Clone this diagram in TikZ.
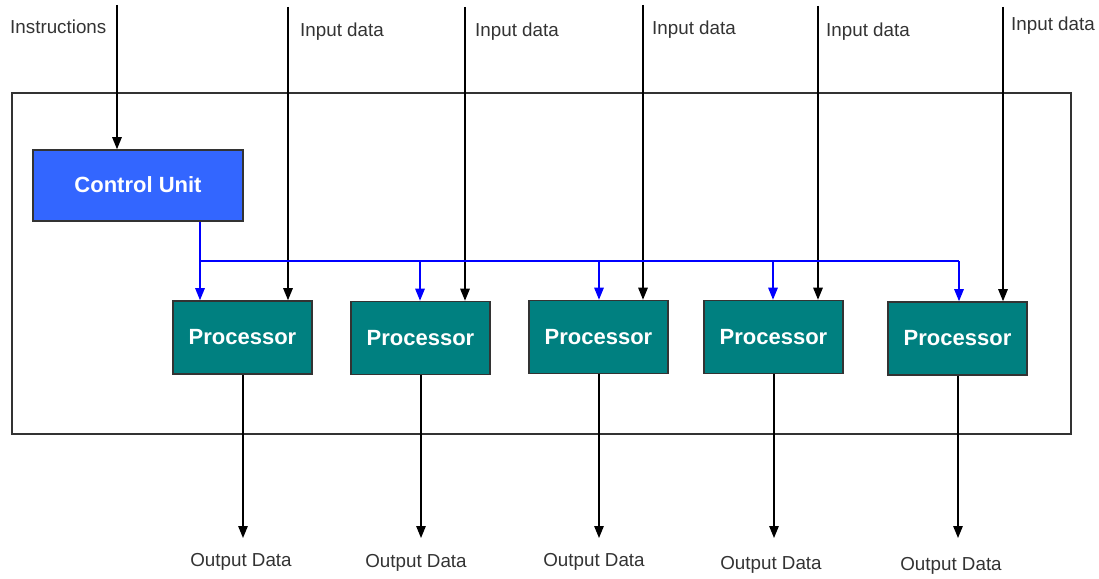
\documentclass[tikz,border=0pt]{standalone}
\usepackage{fontspec}
\setmainfont{Liberation Sans}
\usetikzlibrary{arrows.meta}
\definecolor{cublue}{HTML}{3366FF}
\definecolor{proc}{HTML}{008080}
\definecolor{boxgray}{HTML}{333333}
\tikzset{
  unitbox/.style={draw=boxgray, line width=1.6pt, text=white, font=\fontsize{22}{24}\selectfont\bfseries, inner sep=0pt},
  procbox/.style={unitbox, fill=proc, minimum width=139pt, minimum height=73pt},
  ctrlbox/.style={unitbox, fill=cublue, minimum width=210pt, minimum height=71pt},
  lbl/.style={font=\fontsize{18.8}{20}\selectfont, text=black!80, inner sep=0pt},
  flow/.style={draw=black, line width=1.3pt, -{Triangle[length=12pt,width=9.5pt]}},
  ctl/.style={draw=blue, line width=1.3pt, -{Triangle[length=12pt,width=9.5pt]}},
}
\begin{document}
\begin{tikzpicture}[x=1pt,y=-1pt]
\useasboundingbox (0,0) rectangle (1099,578);
\node[draw=boxgray, line width=1.6pt, minimum width=1059pt, minimum height=341pt, inner sep=0pt] (frame) at (541.5,263.5) {};
\node[ctrlbox] (cu) at (138,185.5) {\raisebox{1.5pt}{Control Unit}};
\node[procbox] (p1) at (242.5,337.5) {Processor};
\node[procbox] (p2) at (420.5,338) {Processor};
\node[procbox] (p3) at (598.5,337) {Processor};
\node[procbox] (p4) at (773.5,337) {Processor};
\node[procbox] (p5) at (957.5,338.5) {Processor};

% labels
\node[lbl, anchor=west] (ins) at (10,27) {Instructions};
\node[lbl, anchor=west] (in1) at (300,32) {Input data};
\node[lbl, anchor=west] (in2) at (475,32) {Input data};
\node[lbl, anchor=west] (in3) at (652,30) {Input data};
\node[lbl, anchor=west] (in4) at (826,32) {Input data};
\node[lbl, anchor=west] (in5) at (1011,26) {Input data};

\node[lbl] (o1) at (241,562) {Output Data};
\node[lbl] (o2) at (416,563) {Output Data};
\node[lbl] (o3) at (594,562) {Output Data};
\node[lbl] (o4) at (771,565) {Output Data};
\node[lbl] (o5) at (951,566) {Output Data};

% top free ends
\coordinate (tins) at (117,5);
\coordinate (t1) at (288,7);
\coordinate (t2) at (465,7);
\coordinate (t3) at (643,5);
\coordinate (t4) at (818,6);
\coordinate (t5) at (1003,7);

\draw[flow] (tins) -- (tins |- cu.north);
\draw[flow] (t1) -- (t1 |- p1.north);
\draw[flow] (t2) -- (t2 |- p2.north);
\draw[flow] (t3) -- (t3 |- p3.north);
\draw[flow] (t4) -- (t4 |- p4.north);
\draw[flow] (t5) -- (t5 |- p5.north);

% control bus
\coordinate (c1) at (200,261);
\coordinate (c2) at (420,261);
\coordinate (c3) at (599,261);
\coordinate (c4) at (773,261);
\coordinate (c5) at (959,261);
\draw[blue, line width=1.3pt] (c1 |- cu.south) -- (c1) -- (c5);
\draw[ctl] (c1) -- (c1 |- p1.north);
\draw[ctl] (c2) -- (c2 |- p2.north);
\draw[ctl] (c3) -- (c3 |- p3.north);
\draw[ctl] (c4) -- (c4 |- p4.north);
\draw[ctl] (c5) -- (c5 |- p5.north);

% outputs
\coordinate (b1) at (243,538);
\coordinate (b2) at (421,538);
\coordinate (b3) at (599,538);
\coordinate (b4) at (774,538);
\coordinate (b5) at (958,538);
\draw[flow] (b1 |- p1.south) -- (b1);
\draw[flow] (b2 |- p2.south) -- (b2);
\draw[flow] (b3 |- p3.south) -- (b3);
\draw[flow] (b4 |- p4.south) -- (b4);
\draw[flow] (b5 |- p5.south) -- (b5);
\end{tikzpicture}
\end{document}
